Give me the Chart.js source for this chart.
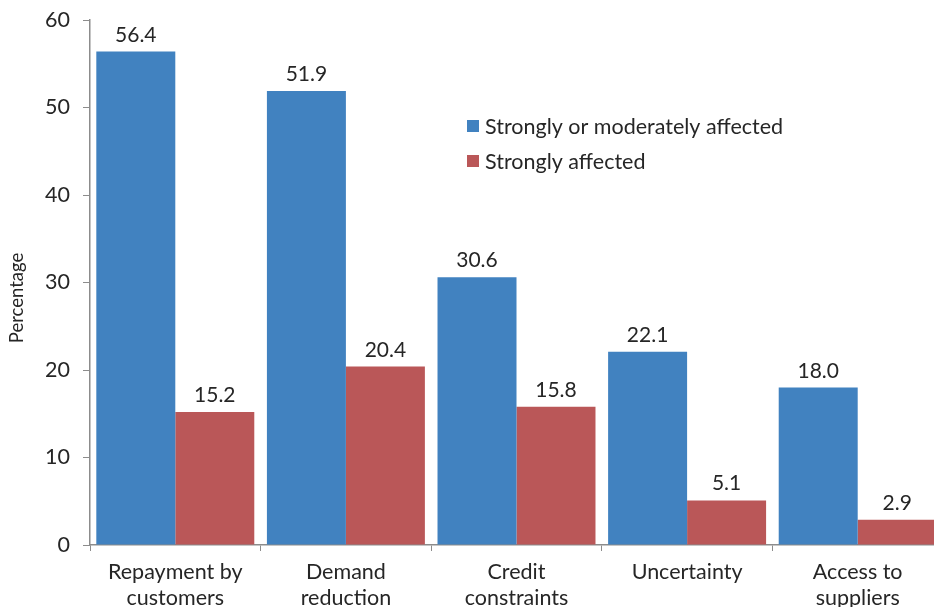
<!DOCTYPE html>
<html>
<head>
<meta charset="utf-8">
<script src="https://cdn.jsdelivr.net/npm/chart.js@4/dist/chart.umd.min.js"></script>
<style>
  html, body { margin: 0; padding: 0; background: #fff; overflow: hidden; }
  #wrap { width: 943px; height: 607px; position: relative; }
</style>
</head>
<body>
<div id="wrap"><canvas id="c" width="943" height="607"></canvas></div>
<script>
const categories = [
  ["Repayment by", "customers"],
  ["Demand", "reduction"],
  ["Credit", "constraints"],
  ["Uncertainty"],
  ["Access to", "suppliers"]
];
const seriesNames = ["Strongly or moderately affected", "Strongly affected"];
const strongOrModerate = [56.4, 51.9, 30.6, 22.1, 18.0];
const strongly = [15.2, 20.4, 15.8, 5.1, 2.9];
const yTicks = [0, 10, 20, 30, 40, 50, 60];
const yTitle = "Percentage";

const FONT = "Lato, 'Open Sans', sans-serif";
const TXT = "#262626";
const AXIS = "#8c8c8c";

const labelPlugin = {
  id: "extras",
  afterDatasetsDraw(chart) {
    const ctx = chart.ctx;
    ctx.save();
    ctx.fillStyle = TXT;
    ctx.font = "21px " + FONT;
    ctx.textAlign = "center";
    ctx.textBaseline = "alphabetic";
    chart.data.datasets.forEach((ds, i) => {
      const meta = chart.getDatasetMeta(i);
      meta.data.forEach((bar, j) => {
        ctx.fillText(ds.data[j].toFixed(1), bar.x, bar.y - 10);
      });
    });
    // legend
    ctx.textAlign = "left";
    ctx.textBaseline = "middle";
    ctx.font = "21.5px " + FONT;
    chart.data.datasets.forEach((ds, i) => {
      const y = 126 + i * 35;
      ctx.fillStyle = ds.backgroundColor;
      ctx.fillRect(467, y - 6, 12, 12);
      ctx.fillStyle = TXT;
      ctx.fillText(ds.label, 485, y + 1);
    });
    // y title
    ctx.save();
    ctx.translate(17, 298);
    ctx.rotate(-Math.PI / 2);
    ctx.textAlign = "center";
    ctx.textBaseline = "middle";
    ctx.font = "18.5px " + FONT;
    ctx.fillStyle = TXT;
    ctx.fillText(yTitle, 0, 0);
    ctx.restore();
    ctx.restore();
  }
};

new Chart(document.getElementById("c"), {
  type: "bar",
  data: {
    labels: categories,
    datasets: [
      { label: seriesNames[0], data: strongOrModerate, backgroundColor: "#4182C0" },
      { label: seriesNames[1], data: strongly, backgroundColor: "#BA5758" }
    ]
  },
  options: {
    responsive: false,
    animation: false,
    devicePixelRatio: 1,
    layout: { padding: { top: 20, right: 0, bottom: 0, left: 0 } },
    datasets: { bar: { categoryPercentage: 0.926, barPercentage: 1.0, borderWidth: 0 } },
    plugins: { legend: { display: false }, tooltip: { enabled: false } },
    scales: {
      x: {
        grid: { drawOnChartArea: false, drawTicks: true, tickLength: 6, color: AXIS, offset: true },
        border: { color: AXIS, width: 1.5 },
        ticks: { color: TXT, font: { family: FONT, size: 21.5, lineHeight: 1.2 }, padding: 8, maxRotation: 0, autoSkip: false },
        afterFit(scale) { scale.height = 62; scale.paddingLeft = 0; scale.paddingRight = 0; }
      },
      y: {
        min: 0, max: 60,
        afterBuildTicks(scale) { scale.ticks = yTicks.map(v => ({ value: v })); },
        grid: { drawOnChartArea: false, drawTicks: true, tickLength: 7, color: AXIS },
        border: { color: AXIS, width: 1.5 },
        ticks: { color: TXT, font: { family: FONT, size: 21.5 }, padding: 13 },
        afterFit(scale) { scale.width = 90; scale.paddingTop = 0; scale.paddingBottom = 0; }
      }
    }
  },
  plugins: [labelPlugin]
});
</script>
</body>
</html>
